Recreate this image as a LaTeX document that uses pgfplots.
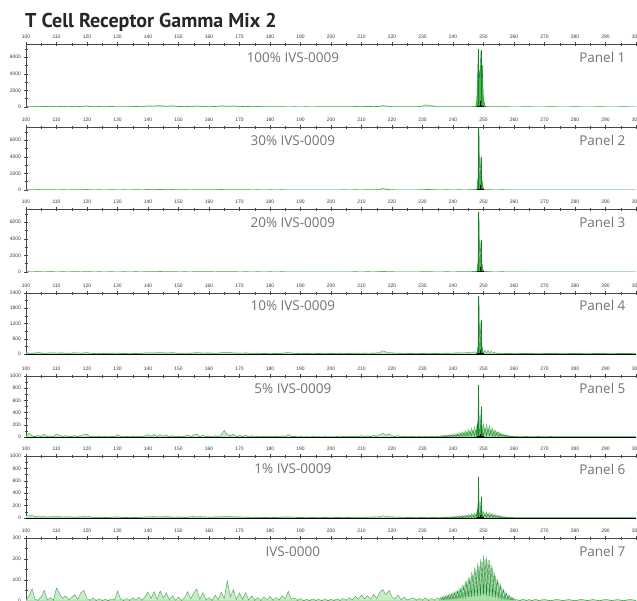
\documentclass[border=0pt]{standalone}
\usepackage{fontspec}
\setmainfont{Open Sans}
\newfontfamily\titlefont{PT Sans}
\newfontfamily\tickfont{Liberation Sans}
\usepackage{pgfplots}
\pgfplotsset{compat=1.18}

\definecolor{trace}{RGB}{60,170,75}
\definecolor{noisefill}{RGB}{200,235,200}
\definecolor{ladderlight}{RGB}{170,222,170}
\definecolor{peakfill}{RGB}{70,185,75}
\definecolor{peakline}{RGB}{25,130,40}
\definecolor{baseline}{RGB}{60,100,60}
\definecolor{axisgray}{RGB}{70,70,70}
\definecolor{labelgray}{RGB}{60,60,60}
\definecolor{captiongray}{RGB}{115,115,115}

\pgfplotsset{
  cepanel/.style={
    scale only axis, width=610pt,
    xmin=100, xmax=300, ymin=0,
    axis x line*=top, axis y line*=left,
    xtick={100,110,...,300}, minor x tick num=1,
    tick align=center,
    major tick length=4pt, minor tick length=3pt,
    every tick/.style={line width=0.5pt, color=axisgray},
    axis line style={line width=0.6pt, color=axisgray},
    ticklabel style={font=\tickfont\fontsize{5}{5}\selectfont, text=labelgray},
    xticklabel style={yshift=-0.5pt},
    yticklabel style={xshift=0.5pt},
    /pgf/number format/assume math mode=true,
    /pgf/number format/set thousands separator={},
    anchor=north west,
  },
  noise/.style={draw=trace, fill=noisefill, line width=0.4pt, sharp plot},
  ladder/.style={draw=trace!80, fill=ladderlight, line width=0.35pt, sharp plot},
  ladderdark/.style={draw=peakline, line width=0.4pt, sharp plot},
  mainpeak/.style={draw=peakline, fill=peakfill, line width=0.4pt, sharp plot},
  spike/.style={ycomb, draw=peakline, line width=0.9pt},
  binmark/.style={ycomb, draw=black, line width=0.8pt},
}
\newcommand{\panellabels}[2]{%
  \node[font=\fontsize{13.5}{13.5}\selectfont, text=captiongray] at (rel axis cs:0.4375,0.79) {#1};
  \node[font=\fontsize{13.5}{13.5}\selectfont, text=captiongray, anchor=east] at (rel axis cs:0.9885,0.79) {#2};
}

\begin{document}
\begin{tikzpicture}
\node[anchor=base west, inner sep=0pt, font=\titlefont\bfseries\fontsize{20}{20}\selectfont, text=black!85] at (25pt,-27pt) {T Cell Receptor Gamma Mix 2};

% ---------------- Panel 1 ----------------
\begin{axis}[cepanel, at={(26pt,-44pt)}, height=63pt, ymax=7600,
  ytick={0,2000,4000,6000}, minor ytick={1000,3000,5000,7000}]
\addplot[noise] coordinates {(100,80)(102,40)(104,120)(106,60)(108,100)(110,50)(112,90)(114,40)(116,110)(118,60)(120,130)(122,50)(124,70)(126,40)(128,90)(130,30)(132,60)(134,40)(136,80)(138,50)(140,150)(142,120)(144,180)(146,90)(148,160)(150,70)(152,90)(154,60)(156,140)(158,80)(160,120)(162,70)(164,150)(166,90)(168,130)(170,60)(172,90)(174,50)(176,70)(178,40)(180,60)(182,40)(184,50)(186,30)(188,40)(190,30)(192,40)(194,30)(196,50)(198,40)(200,50)(202,40)(204,60)(206,40)(208,70)(210,50)(212,80)(214,60)(216,90)(217,180)(218,120)(220,60)(222,50)(224,40)(226,50)(228,40)(230,120)(231,260)(232,220)(233,180)(234,60)(236,40)(238,50)(240,40)(242,50)(244,40)(246,60)(247,90)(248,60)(250,60)(251,70)(252,50)(254,40)(256,50)(258,40)(260,30)(264,40)(268,30)(272,40)(276,30)(280,40)(284,30)(288,40)(292,30)(296,40)(300,30)} \closedcycle;
\addplot[mainpeak] coordinates {(247.4,0)(247.8,800)(248.1,4000)(248.3,6960)(248.5,4500)(248.75,3500)(249.0,5000)(249.2,6900)(249.4,3000)(249.6,5070)(249.9,1500)(250.3,300)(250.7,0)} \closedcycle;
\addplot[spike] coordinates {(248.3,6960)(249.2,6900)};
\addplot[binmark] coordinates {(249.1,690)};
\addplot[baseline, line width=0.8pt] coordinates {(100,0)(300,0)};
\addplot[black, line width=1.4pt] coordinates {(247.8,0)(250.2,0)};
\panellabels{100\% IVS-0009}{Panel 1}
\end{axis}

% ---------------- Panel 2 ----------------
\begin{axis}[cepanel, at={(26pt,-127pt)}, height=63pt, ymax=7600,
  ytick={0,2000,4000,6000}, minor ytick={1000,3000,5000,7000}]
\addplot[noise] coordinates {(100,60)(102,30)(104,70)(106,40)(108,60)(110,30)(112,50)(114,30)(116,60)(118,40)(120,70)(122,30)(124,40)(126,30)(128,50)(130,30)(132,40)(134,30)(136,50)(138,30)(140,70)(142,50)(144,80)(146,40)(148,70)(150,40)(152,50)(154,30)(156,60)(158,40)(160,60)(162,40)(164,70)(166,50)(168,60)(170,40)(172,50)(174,30)(176,40)(178,30)(180,40)(182,30)(184,40)(186,30)(188,30)(190,20)(192,30)(194,20)(196,30)(198,20)(200,30)(202,20)(204,40)(206,30)(208,40)(210,30)(212,50)(214,40)(216,60)(217,240)(218,90)(220,40)(222,30)(224,30)(226,30)(228,30)(230,50)(232,80)(234,40)(236,30)(238,40)(240,30)(242,40)(244,30)(246,50)(247,70)(248,50)(250,50)(251,60)(252,40)(254,30)(256,40)(258,30)(260,30)(264,30)(268,20)(272,30)(276,20)(280,30)(284,20)(288,30)(292,20)(296,30)(300,20)} \closedcycle;
\addplot[mainpeak] coordinates {(247.8,0)(248.2,1500)(248.5,7700)(248.7,1800)(248.9,1500)(249.2,4000)(249.5,1200)(249.8,400)(250.2,0)} \closedcycle;
\addplot[spike] coordinates {(248.5,7700)(249.2,4000)};
\addplot[binmark] coordinates {(249.1,600)};
\addplot[baseline, line width=0.8pt] coordinates {(100,0)(300,0)};
\addplot[black, line width=1.4pt] coordinates {(247.8,0)(250.2,0)};
\panellabels{30\% IVS-0009}{Panel 2}
\end{axis}

% ---------------- Panel 3 ----------------
\begin{axis}[cepanel, at={(26pt,-209pt)}, height=63pt, ymax=7600,
  ytick={0,2000,4000,6000}, minor ytick={1000,3000,5000,7000}]
\addplot[noise] coordinates {(100,50)(102,30)(104,60)(106,30)(108,50)(110,30)(112,40)(114,30)(116,50)(118,30)(120,60)(122,30)(124,40)(126,30)(128,40)(130,30)(132,40)(134,30)(136,40)(138,30)(140,60)(142,40)(144,70)(146,40)(148,60)(150,30)(152,40)(154,30)(156,60)(158,40)(160,50)(162,30)(164,60)(166,50)(168,50)(170,30)(172,40)(174,30)(176,40)(178,30)(180,40)(182,30)(184,40)(186,30)(188,30)(190,20)(192,30)(194,20)(196,30)(198,20)(200,30)(202,20)(204,30)(206,30)(208,40)(210,30)(212,40)(214,30)(216,50)(217,90)(218,60)(220,40)(222,30)(224,30)(226,30)(228,30)(230,40)(232,50)(234,30)(236,30)(238,40)(240,30)(242,40)(244,40)(246,60)(247,80)(248,60)(250,60)(251,70)(252,40)(254,30)(256,40)(258,30)(260,30)(264,30)(268,20)(272,30)(276,20)(280,30)(284,20)(288,30)(292,20)(296,30)(300,20)} \closedcycle;
\addplot[mainpeak] coordinates {(247.8,0)(248.2,1200)(248.5,7250)(248.7,1500)(248.9,1300)(249.2,3860)(249.5,1000)(249.8,300)(250.2,0)} \closedcycle;
\addplot[spike] coordinates {(248.5,7250)(249.2,3860)};
\addplot[binmark] coordinates {(249.1,600)};
\addplot[baseline, line width=0.8pt] coordinates {(100,0)(300,0)};
\addplot[black, line width=1.4pt] coordinates {(247.8,0)(250.2,0)};
\panellabels{20\% IVS-0009}{Panel 3}
\end{axis}

% ---------------- Panel 4 ----------------
\begin{axis}[cepanel, at={(26pt,-293pt)}, height=61pt, ymax=2400,
  ytick={0,600,1200,1800,2400}, minor ytick={300,900,1500,2100}]
\addplot[noise] coordinates {(100,50)(102,30)(104,60)(106,30)(108,50)(110,40)(112,45)(114,30)(116,50)(118,35)(120,55)(122,25)(124,35)(126,20)(128,35)(130,40)(132,25)(134,30)(136,25)(138,35)(140,50)(142,45)(144,60)(146,40)(148,55)(150,30)(152,40)(154,35)(156,55)(158,40)(160,45)(162,30)(164,50)(165,70)(166,55)(168,50)(170,35)(172,45)(174,30)(176,35)(178,25)(180,30)(182,25)(184,35)(186,60)(188,30)(190,20)(192,25)(194,20)(196,25)(198,20)(200,25)(202,20)(204,30)(206,25)(208,35)(210,30)(212,40)(214,35)(216,60)(217,130)(218,80)(220,45)(222,35)(224,30)(226,25)(228,30)(230,25)(232,30)(234,25)(236,30)(238,35)(240,40)(242,45)(244,50)(246,60)(247,80)(248,60)(250,60)(250.5,150)(251,50)(251.5,140)(252,45)(252.5,110)(253,35)(253.5,70)(254,30)(254.5,45)(255,25)(256,30)(258,25)(260,20)(264,25)(268,20)(272,25)(276,20)(280,25)(284,20)(288,25)(292,20)(296,25)(300,20)} \closedcycle;
\addplot[mainpeak] coordinates {(247.8,0)(248.2,300)(248.5,2280)(248.7,400)(248.9,350)(249.2,1340)(249.5,300)(249.8,120)(250.2,0)} \closedcycle;
\addplot[spike] coordinates {(248.5,2280)(249.2,1340)};
\addplot[binmark] coordinates {(249.1,160)};
\addplot[baseline, line width=0.8pt] coordinates {(100,0)(300,0)};
\addplot[black, line width=1.4pt] coordinates {(247.8,0)(250.2,0)};
\panellabels{10\% IVS-0009}{Panel 4}
\end{axis}

% ---------------- Panel 5 ----------------
\begin{axis}[cepanel, at={(26pt,-376pt)}, height=61pt, ymax=1000,
  ytick={0,200,400,600,800,1000}, minor ytick={100,300,500,700,900}]
\addplot[noise] coordinates {(100,12)(101,60)(102,20)(103,8)(104,25)(105,10)(106,45)(107,8)(108,20)(109,6)(110,50)(111,30)(112,12)(113,22)(114,8)(115,12)(116,25)(117,8)(118,30)(119,40)(120,45)(121,8)(122,16)(123,5)(124,12)(125,4)(126,10)(127,4)(128,12)(129,6)(130,40)(131,10)(132,4)(133,12)(134,4)(135,12)(136,6)(137,16)(138,5)(139,20)(140,40)(141,12)(142,45)(143,8)(144,40)(145,14)(146,35)(147,6)(148,22)(149,5)(150,16)(151,4)(152,14)(153,35)(154,10)(155,32)(156,50)(157,8)(158,35)(159,6)(160,16)(161,4)(162,22)(163,6)(164,38)(165,110)(166,40)(167,20)(168,45)(169,8)(170,28)(171,8)(172,32)(173,5)(174,22)(175,4)(176,14)(177,4)(178,16)(179,6)(180,18)(181,5)(182,14)(183,5)(184,20)(185,10)(186,40)(187,8)(188,12)(189,4)(190,10)(191,3)(192,8)(193,3)(194,10)(195,4)(196,8)(197,3)(198,10)(199,4)(200,8)(201,4)(202,10)(203,4)(204,12)(205,5)(206,14)(207,6)(208,18)(209,8)(210,22)(211,8)(212,20)(213,8)(214,28)(215,12)(216,38)(217,65)(218,30)(219,50)(220,20)(221,10)(222,24)(223,6)(224,16)(225,5)(226,10)(227,14)(228,4)(229,12)(230,4)(231,14)(232,4)(233,12)(234,5)(235,14)(236,8)(240,10)(250,10)(260,10)(261,10)(262,6)(264,10)(266,6)(268,10)(270,6)(272,10)(274,6)(276,9)(278,6)(280,9)(282,6)(284,9)(286,6)(288,9)(290,6)(292,9)(294,6)(296,9)(298,6)(300,8)} \closedcycle;
\addplot[ladder] coordinates {(235.5,5)(236,25)(236.5,8)(237,30)(237.5,8)(238,35)(238.5,10)(239,42)(239.5,10)(240,50)(240.5,12)(241,60)(241.5,14)(242,75)(242.5,16)(243,90)(243.5,18)(244,110)(244.5,20)(245,130)(245.5,22)(246,150)(246.5,25)(247,170)(247.5,28)(248,185)(248.5,30)(249,200)(249.5,30)(250,215)(250.5,30)(251,210)(251.5,28)(252,190)(252.5,25)(253,150)(253.5,20)(254,115)(254.5,16)(255,85)(255.5,12)(256,60)(256.5,10)(257,42)(257.5,8)(258,28)(258.5,6)(259,18)(259.5,5)(260,12)(260.5,4)} \closedcycle;
\addplot[ladderdark] coordinates {(236,5)(236.5,18)(237,5)(237.5,22)(238,6)(238.5,26)(239,6)(239.5,30)(240,8)(240.5,36)(241,8)(241.5,45)(242,10)(242.5,55)(243,12)(243.5,65)(244,14)(244.5,80)(245,16)(245.5,95)(246,18)(246.5,110)(247,20)(247.5,120)(248,22)(248.5,130)(249,24)(249.5,140)(250,24)(250.5,150)(251,22)(251.5,145)(252,20)(252.5,125)(253,16)(253.5,100)(254,14)(254.5,80)(255,12)(255.5,58)(256,10)(256.5,40)(257,8)(257.5,28)(258,6)(258.5,18)(259,5)(259.5,12)(260,4)};
\addplot[mainpeak] coordinates {(247.7,20)(247.9,220)(248.1,60)(248.4,852)(248.6,120)(248.9,100)(249.3,500)(249.6,60)(249.9,20)} \closedcycle;
\addplot[spike] coordinates {(248.4,852)(249.3,500)};
\addplot[binmark] coordinates {(249.1,50)};
\addplot[baseline, line width=0.8pt] coordinates {(100,0)(300,0)};
\addplot[black, line width=1.4pt] coordinates {(247.8,0)(250.2,0)};
\panellabels{5\% IVS-0009}{Panel 5}
\end{axis}

% ---------------- Panel 6 ----------------
\begin{axis}[cepanel, at={(26pt,-456pt)}, height=62pt, ymax=1000,
  ytick={0,200,400,600,800,1000}, minor ytick={100,300,500,700,900}]
\addplot[noise] coordinates {(100,40)(101,35)(102,40)(103,25)(104,30)(105,20)(106,25)(107,15)(108,20)(110,30)(112,15)(114,20)(116,15)(118,20)(120,25)(122,12)(124,15)(126,10)(128,15)(130,20)(132,10)(134,12)(136,10)(138,15)(140,20)(142,22)(144,18)(146,25)(148,15)(150,18)(152,12)(154,20)(156,25)(158,20)(160,15)(162,18)(164,20)(166,30)(168,20)(170,18)(172,15)(174,12)(176,15)(178,10)(180,12)(182,10)(184,15)(186,20)(188,12)(190,10)(192,8)(194,10)(196,8)(198,10)(200,8)(202,10)(204,12)(206,10)(208,15)(210,12)(212,15)(214,18)(216,22)(217,35)(218,28)(220,18)(222,15)(224,12)(226,10)(228,12)(230,10)(232,12)(234,10)(236,8)(250,8)(260,8)(262,6)(266,8)(270,6)(274,8)(278,6)(282,8)(286,6)(290,8)(294,6)(298,8)(300,6)} \closedcycle;
\addplot[ladder] coordinates {(235.5,3)(236,12)(236.5,4)(237,15)(237.5,4)(238,18)(238.5,5)(239,22)(239.5,5)(240,26)(240.5,6)(241,30)(241.5,7)(242,36)(242.5,8)(243,42)(243.5,9)(244,50)(244.5,10)(245,60)(245.5,11)(246,70)(246.5,12)(247,80)(247.5,14)(248,88)(248.5,15)(249,95)(249.5,15)(250,100)(250.5,15)(251,98)(251.5,14)(252,88)(252.5,12)(253,72)(253.5,10)(254,55)(254.5,8)(255,42)(255.5,6)(256,30)(256.5,5)(257,22)(257.5,4)(258,15)(258.5,3)(259,10)(259.5,3)(260,7)(260.5,2)} \closedcycle;
\addplot[ladderdark] coordinates {(236,3)(236.5,9)(237,3)(237.5,11)(238,3)(238.5,13)(239,4)(239.5,16)(240,4)(240.5,19)(241,5)(241.5,23)(242,5)(242.5,27)(243,6)(243.5,32)(244,7)(244.5,38)(245,8)(245.5,45)(246,9)(246.5,52)(247,10)(247.5,58)(248,11)(248.5,64)(249,12)(249.5,68)(250,12)(250.5,70)(251,11)(251.5,68)(252,10)(252.5,60)(253,8)(253.5,48)(254,7)(254.5,38)(255,6)(255.5,28)(256,5)(256.5,20)(257,4)(257.5,14)(258,3)(258.5,9)(259,3)(259.5,6)(260,2)};
\addplot[mainpeak] coordinates {(247.7,15)(247.9,120)(248.1,40)(248.4,666)(248.6,80)(248.9,70)(249.3,343)(249.6,40)(249.9,15)} \closedcycle;
\addplot[spike] coordinates {(248.4,666)(249.3,343)};
\addplot[binmark] coordinates {(249.1,50)};
\addplot[baseline, line width=0.8pt] coordinates {(100,0)(300,0)};
\addplot[black, line width=1.4pt] coordinates {(247.8,0)(250.2,0)};
\panellabels{1\% IVS-0009}{Panel 6}
\end{axis}

% ---------------- Panel 7 ----------------
\begin{axis}[cepanel, at={(26pt,-538pt)}, height=63pt, ymax=300,
  ytick={0,100,200,300}, minor ytick={50,150,250}]
\addplot[noise] coordinates {(100,3)(101,25)(102,58)(103,8)(104,4)(105,20)(106,50)(107,6)(108,15)(109,4)(110,62)(111,35)(112,12)(113,25)(114,6)(115,18)(116,30)(117,8)(118,40)(119,50)(120,10)(121,4)(122,14)(123,3)(124,10)(125,3)(126,8)(127,2)(128,10)(129,5)(130,47)(131,10)(132,3)(133,12)(134,3)(135,15)(136,5)(137,18)(138,4)(139,20)(140,42)(141,12)(142,45)(143,8)(144,48)(145,15)(146,38)(147,6)(148,25)(149,4)(150,18)(151,3)(152,15)(153,45)(154,10)(155,38)(156,58)(157,8)(158,40)(159,5)(160,16)(161,3)(162,28)(163,6)(164,42)(165,12)(166,97)(167,20)(168,55)(169,8)(170,38)(171,8)(172,40)(173,5)(174,25)(175,3)(176,16)(177,3)(178,18)(179,6)(180,22)(181,4)(182,16)(183,5)(184,25)(185,10)(186,46)(187,8)(188,15)(189,3)(190,12)(191,2)(192,8)(193,2)(194,10)(195,3)(196,8)(197,2)(198,10)(199,2)(200,8)(201,3)(202,10)(203,3)(204,12)(205,4)(206,15)(207,6)(208,22)(209,8)(210,28)(211,10)(212,25)(213,8)(214,32)(215,12)(216,42)(217,55)(218,30)(219,50)(220,20)(221,10)(222,28)(223,6)(224,18)(225,5)(226,10)(227,15)(228,4)(229,12)(230,4)(231,15)(232,3)(233,12)(234,4)(235,14)(236,8)(250,8)(260,8)(261,6)(262,3)(263,9)(264,3)(265,7)(266,2)(267,9)(268,3)(270,7)(272,2)(274,8)(276,3)(278,7)(280,2)(282,8)(284,3)(286,7)(288,2)(290,8)(292,3)(294,7)(296,2)(298,8)(300,3)} \closedcycle;
\addplot[ladder] coordinates {(235.5,5)(236,20)(236.5,6)(237,25)(237.5,7)(238,30)(238.5,8)(239,35)(239.5,9)(240,42)(240.5,10)(241,50)(241.5,12)(242,60)(242.5,14)(243,75)(243.5,16)(244,95)(244.5,18)(245,115)(245.5,20)(246,140)(246.5,22)(247,160)(247.5,24)(248,180)(248.5,26)(249,200)(249.5,28)(250,222)(250.5,28)(251,212)(251.5,26)(252,195)(252.5,24)(253,160)(253.5,20)(254,120)(254.5,16)(255,90)(255.5,12)(256,65)(256.5,10)(257,45)(257.5,8)(258,30)(258.5,6)(259,20)(259.5,5)(260,12)(260.5,4)} \closedcycle;
\addplot[ladderdark] coordinates {(236,5)(236.5,18)(237,6)(237.5,22)(238,7)(238.5,27)(239,8)(239.5,32)(240,9)(240.5,38)(241,10)(241.5,46)(242,12)(242.5,56)(243,14)(243.5,70)(244,16)(244.5,88)(245,18)(245.5,108)(246,20)(246.5,130)(247,22)(247.5,150)(248,24)(248.5,170)(249,26)(249.5,190)(250,28)(250.5,200)(251,26)(251.5,195)(252,24)(252.5,172)(253,20)(253.5,138)(254,16)(254.5,104)(255,12)(255.5,76)(256,10)(256.5,54)(257,8)(257.5,37)(258,6)(258.5,25)(259,5)(259.5,16)(260,4)};
\addplot[baseline, line width=0.8pt] coordinates {(100,0)(300,0)};
\panellabels{IVS-0000}{Panel 7}
\end{axis}

\pgfresetboundingbox
\useasboundingbox (0pt,0pt) rectangle (637pt,-600pt);
\end{tikzpicture}
\end{document}
